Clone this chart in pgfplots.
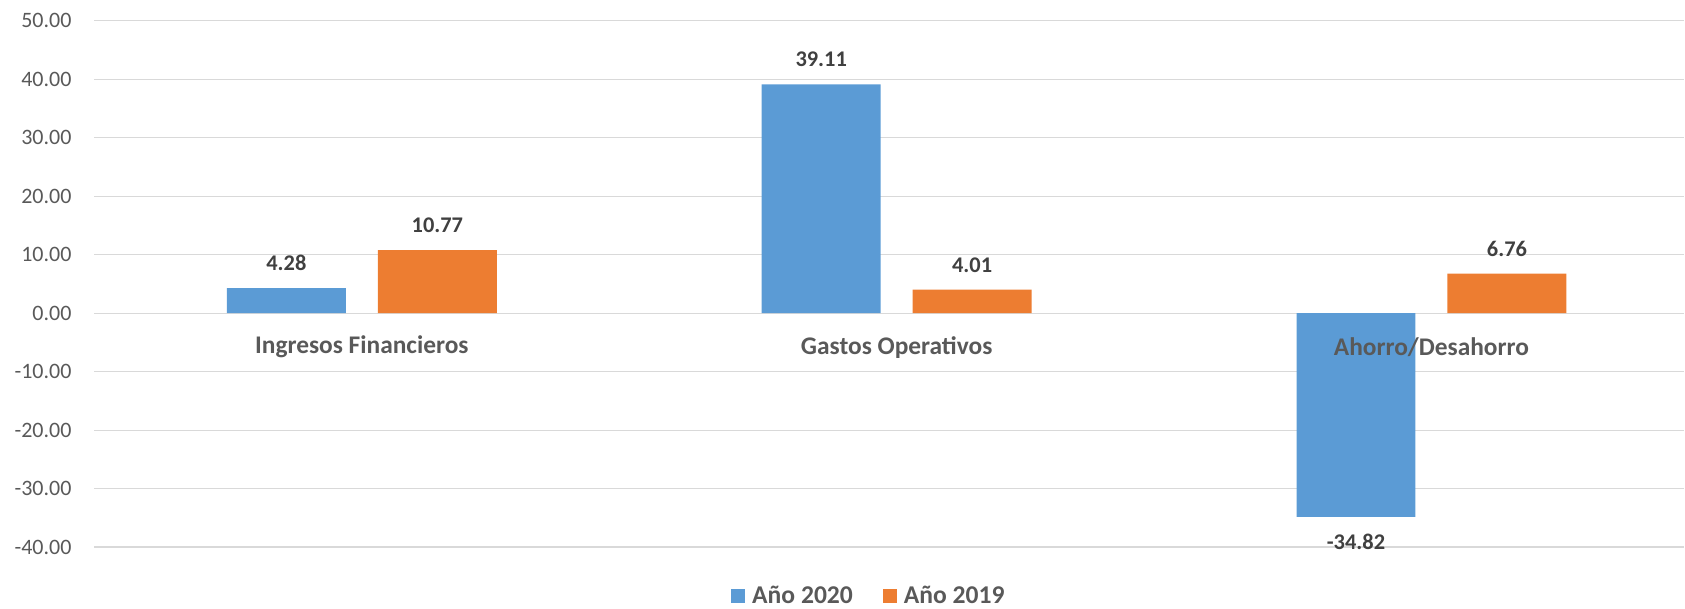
\documentclass[border=0pt]{standalone}
\usepackage{fontspec}
\setmainfont{Carlito}
\usepackage{pgfplots}
\pgfplotsset{compat=1.18}
\definecolor{cblue}{HTML}{5B9BD5}
\definecolor{corange}{HTML}{ED7D31}
\definecolor{gridc}{HTML}{D9D9D9}
\definecolor{tickc}{HTML}{595959}
\definecolor{labc}{HTML}{404040}
\begin{document}
\begin{tikzpicture}
\begin{axis}[
  set layers=standard,
  at={(47.25pt,30.35pt)}, anchor=south west,
  scale only axis,
  width=795.25pt, height=263.3pt,
  ybar=16pt, bar width=59.5pt,
  xmin=-0.5, xmax=2.473,
  ymin=-40, ymax=50,
  ytick={-40,-30,...,50},
  xtick={0,1,2},
  xticklabels={Ingresos Financieros, Gastos Operativos, Ahorro/Desahorro},
  xticklabel style={/pgfplots/on layer=axis foreground, anchor=center, yshift=100pt, font=\fontsize{12.7}{14}\selectfont\bfseries, text=tickc},
  yticklabel style={font=\fontsize{11}{13}\selectfont, text=tickc, xshift=-8pt},
  /pgf/number format/assume math mode=true,
  yticklabel={\pgfmathprintnumber[fixed,fixed zerofill,precision=2]{\tick}},
  major tick length=0pt,
  axis line style={draw=none},
  ymajorgrids, grid style={gridc, line width=0.6pt},
  point meta=y,
  nodes near coords={\pgfmathprintnumber[fixed,fixed zerofill,precision=2]{\pgfplotspointmeta}},
  nodes near coords align={vertical},
  nodes near coords style={font=\fontsize{11.2}{13}\selectfont\bfseries, text=labc, inner ysep=8.5pt},
  legend columns=2,
  legend style={at={(0.4877,-0.0925)}, anchor=center, draw=none, fill=none, inner sep=0pt,
    font=\fontsize{12.8}{14}\selectfont\bfseries, text=tickc,
    nodes={inner ysep=1pt},
    /tikz/every even column/.append style={column sep=13pt}},
  legend image code/.code={\fill[#1] (0pt,-3.5pt) rectangle (7pt,3.5pt); \path (8.5pt,0pt);},
]
\addplot[fill=cblue, draw=none] coordinates {(0,4.28) (1,39.11) (2,-34.82)};
\addplot[fill=corange, draw=none] coordinates {(0,10.77) (1,4.01) (2,6.76)};
\legend{Año 2020, Año 2019}
\end{axis}
\path (0,0) rectangle (842.5pt,304pt);
\end{tikzpicture}
\end{document}
